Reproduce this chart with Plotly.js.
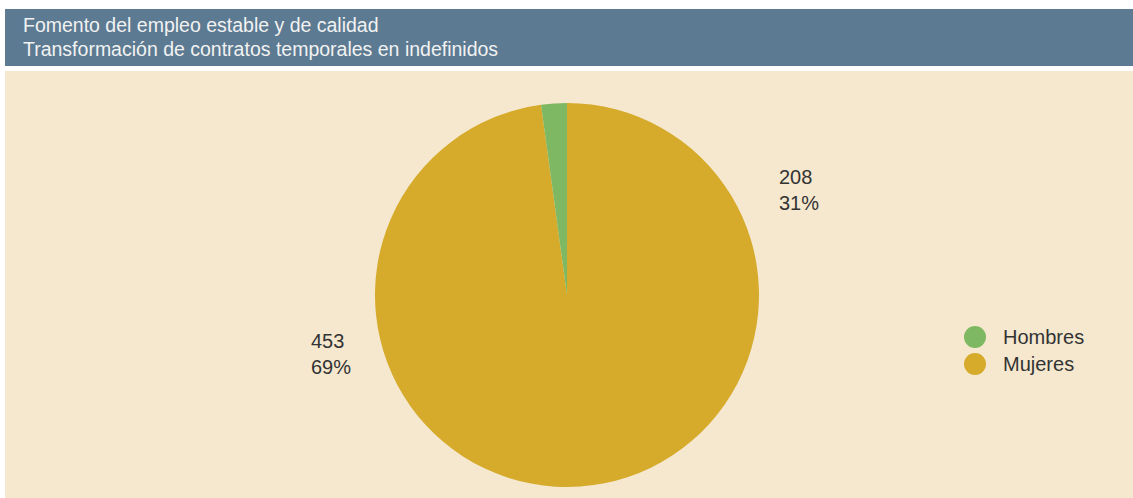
<!DOCTYPE html>
<html>
<head>
<meta charset="utf-8">
<script src="https://cdn.plot.ly/plotly-3.0.1.min.js"></script>
<style>html,body{margin:0;padding:0;background:#fff;}#chart{width:1133px;height:498px;}</style>
</head>
<body>
<div id="chart"></div>
<script>
// ---- data ----
const titleLines = ['Fomento del empleo estable y de calidad', 'Transformación de contratos temporales en indefinidos'];
const categories = ['Hombres', 'Mujeres'];
const sliceValues = [10, 453];          // slice sizes as drawn in the picture
const labelCounts = [208, 453];          // printed labels
const labelPercents = ['31%', '69%'];
const sliceColors = ['#7fb862', '#d6aa2a'];

// ---- layout helpers ----
const W = 1133, H = 498;
const px = x => x / W;
const py = y => 1 - y / H;
const FONT = 'Liberation Sans, Arial, sans-serif';
const TEXT = '#333333';

// pie draws slices in reverse order so Hombres sits just left of 12 o'clock
const pie = {
  type: 'pie',
  labels: categories.slice().reverse(),
  values: sliceValues.slice().reverse(),
  sort: false,
  direction: 'counterclockwise',
  rotation: 0,
  marker: { colors: sliceColors.slice().reverse(), line: { width: 0 } },
  textinfo: 'none',
  hoverinfo: 'skip',
  showlegend: false,
  domain: { x: [px(567 - 192), px(567 + 192)], y: [py(487), py(103)] }
};

const shapes = [
  { type: 'rect', xref: 'paper', yref: 'paper', x0: px(5), x1: 1, y0: py(66), y1: py(9),
    fillcolor: '#5c7a91', line: { width: 0 }, layer: 'below' },
  { type: 'rect', xref: 'paper', yref: 'paper', x0: px(5), x1: 1, y0: 0, y1: py(71),
    fillcolor: '#f5e8cf', line: { width: 0 }, layer: 'below' }
];

const annotations = [];
titleLines.forEach((t, i) => {
  annotations.push({ xref: 'paper', yref: 'paper', x: px(21), y: py(25 + i * 24),
    xanchor: 'left', yanchor: 'middle', showarrow: false, text: t,
    font: { family: FONT, size: 19.5, color: '#f2f2f2' } });
});

// slice labels
const labelPos = [[777, 190], [309, 354]];
categories.forEach((c, i) => {
  annotations.push({ xref: 'paper', yref: 'paper', x: px(labelPos[i][0]), y: py(labelPos[i][1]),
    xanchor: 'left', yanchor: 'middle', align: 'left', showarrow: false,
    text: labelCounts[i] + '<br>' + labelPercents[i],
    font: { family: FONT, size: 20, color: TEXT } });
});

// legend (circle markers)
categories.forEach((c, i) => {
  const cy = 337 + i * 27, cx = 975, r = 11;
  shapes.push({ type: 'circle', xref: 'paper', yref: 'paper',
    x0: px(cx - r), x1: px(cx + r), y0: py(cy + r), y1: py(cy - r),
    fillcolor: sliceColors[i], line: { width: 0 } });
  annotations.push({ xref: 'paper', yref: 'paper', x: px(1001), y: py(cy),
    xanchor: 'left', yanchor: 'middle', showarrow: false, text: c,
    font: { family: FONT, size: 20, color: TEXT } });
});

const layout = {
  width: W, height: H,
  margin: { l: 0, r: 0, t: 0, b: 0 },
  paper_bgcolor: '#ffffff',
  showlegend: false,
  shapes: shapes,
  annotations: annotations
};

Plotly.newPlot('chart', [pie], layout, { displayModeBar: false, staticPlot: true });
</script>
</body>
</html>
